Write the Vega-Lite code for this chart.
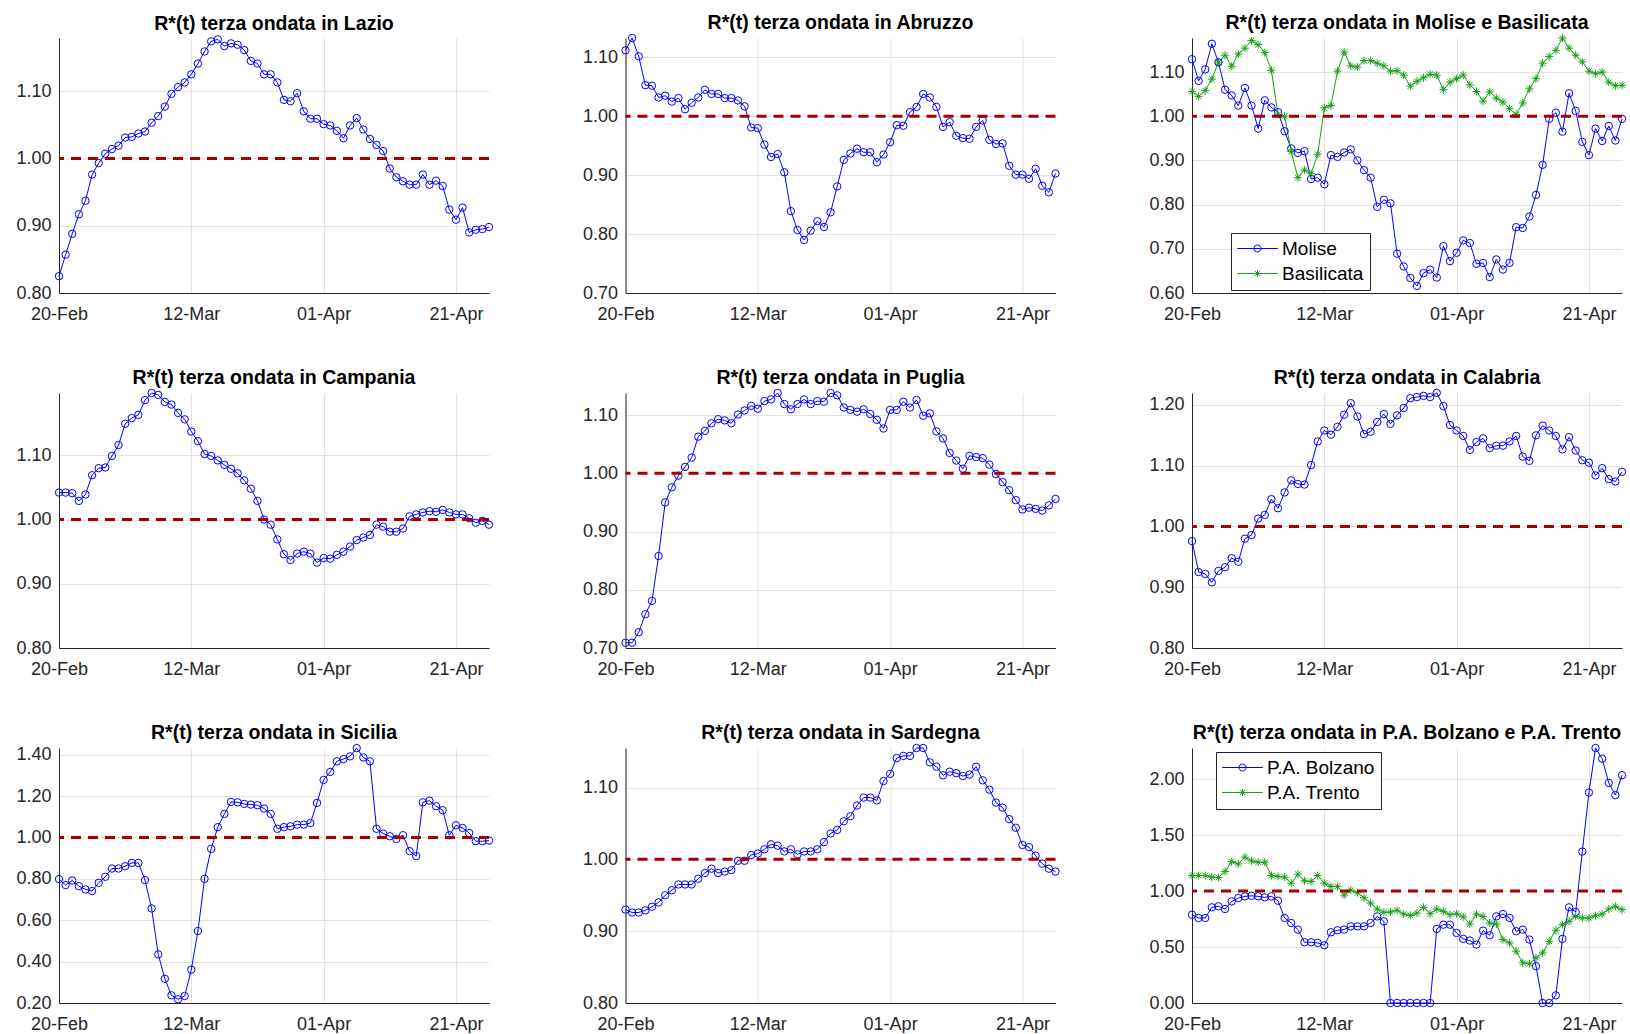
{
"$schema": "https://vega.github.io/schema/vega-lite/v6.json",
"padding": {"left": 15, "top": 12, "right": 0, "bottom": 0},
"datasets": {"r": [
{"t":"2021/02/20","Lazio":0.825,"Abruzzo":1.112,"Molise":1.129,"Basilicata":1.056,"Campania":1.042,"Puglia":0.709,"Calabria":0.976,"Sicilia":0.799,"Sardegna":0.930,"Bolzano":0.789,"Trento":1.139},
{"t":"2021/02/21","Lazio":0.857,"Abruzzo":1.133,"Molise":1.080,"Basilicata":1.045,"Campania":1.042,"Puglia":0.709,"Calabria":0.925,"Sicilia":0.770,"Sardegna":0.926,"Bolzano":0.760,"Trento":1.139},
{"t":"2021/02/22","Lazio":0.888,"Abruzzo":1.102,"Molise":1.106,"Basilicata":1.058,"Campania":1.041,"Puglia":0.727,"Calabria":0.922,"Sicilia":0.792,"Sardegna":0.926,"Bolzano":0.760,"Trento":1.139},
{"t":"2021/02/23","Lazio":0.917,"Abruzzo":1.053,"Molise":1.164,"Basilicata":1.084,"Campania":1.029,"Puglia":0.758,"Calabria":0.908,"Sicilia":0.765,"Sardegna":0.929,"Bolzano":0.855,"Trento":1.125},
{"t":"2021/02/24","Lazio":0.937,"Abruzzo":1.052,"Molise":1.122,"Basilicata":1.122,"Campania":1.039,"Puglia":0.781,"Calabria":0.927,"Sicilia":0.749,"Sardegna":0.934,"Bolzano":0.864,"Trento":1.122},
{"t":"2021/02/25","Lazio":0.976,"Abruzzo":1.032,"Molise":1.060,"Basilicata":1.138,"Campania":1.069,"Puglia":0.858,"Calabria":0.933,"Sicilia":0.741,"Sardegna":0.940,"Bolzano":0.840,"Trento":1.175},
{"t":"2021/02/26","Lazio":0.993,"Abruzzo":1.035,"Molise":1.047,"Basilicata":1.113,"Campania":1.080,"Puglia":0.950,"Calabria":0.948,"Sicilia":0.781,"Sardegna":0.950,"Bolzano":0.908,"Trento":1.264},
{"t":"2021/02/27","Lazio":1.007,"Abruzzo":1.025,"Molise":1.024,"Basilicata":1.141,"Campania":1.081,"Puglia":0.976,"Calabria":0.942,"Sicilia":0.810,"Sardegna":0.957,"Bolzano":0.938,"Trento":1.243},
{"t":"2021/02/28","Lazio":1.014,"Abruzzo":1.031,"Molise":1.064,"Basilicata":1.154,"Campania":1.099,"Puglia":0.996,"Calabria":0.980,"Sicilia":0.850,"Sardegna":0.965,"Bolzano":0.953,"Trento":1.303},
{"t":"2021/03/01","Lazio":1.019,"Abruzzo":1.012,"Molise":1.024,"Basilicata":1.171,"Campania":1.116,"Puglia":1.011,"Calabria":0.986,"Sicilia":0.850,"Sardegna":0.965,"Bolzano":0.958,"Trento":1.270},
{"t":"2021/03/02","Lazio":1.031,"Abruzzo":1.023,"Molise":0.972,"Basilicata":1.162,"Campania":1.149,"Puglia":1.027,"Calabria":1.013,"Sicilia":0.861,"Sardegna":0.965,"Bolzano":0.953,"Trento":1.258},
{"t":"2021/03/03","Lazio":1.032,"Abruzzo":1.032,"Molise":1.036,"Basilicata":1.144,"Campania":1.158,"Puglia":1.063,"Calabria":1.019,"Sicilia":0.877,"Sardegna":0.973,"Bolzano":0.944,"Trento":1.258},
{"t":"2021/03/04","Lazio":1.037,"Abruzzo":1.045,"Molise":1.020,"Basilicata":1.104,"Campania":1.163,"Puglia":1.073,"Calabria":1.045,"Sicilia":0.877,"Sardegna":0.981,"Bolzano":0.953,"Trento":1.139},
{"t":"2021/03/05","Lazio":1.040,"Abruzzo":1.038,"Molise":1.009,"Basilicata":1.004,"Campania":1.186,"Puglia":1.086,"Calabria":1.030,"Sicilia":0.794,"Sardegna":0.987,"Bolzano":0.914,"Trento":1.131},
{"t":"2021/03/06","Lazio":1.053,"Abruzzo":1.038,"Molise":0.966,"Basilicata":1.000,"Campania":1.197,"Puglia":1.093,"Calabria":1.056,"Sicilia":0.657,"Sardegna":0.981,"Bolzano":0.760,"Trento":1.125},
{"t":"2021/03/07","Lazio":1.063,"Abruzzo":1.031,"Molise":0.927,"Basilicata":0.920,"Campania":1.194,"Puglia":1.091,"Calabria":1.076,"Sicilia":0.435,"Sardegna":0.983,"Bolzano":0.715,"Trento":1.071},
{"t":"2021/03/08","Lazio":1.077,"Abruzzo":1.031,"Molise":0.917,"Basilicata":0.861,"Campania":1.183,"Puglia":1.086,"Calabria":1.070,"Sicilia":0.317,"Sardegna":0.985,"Bolzano":0.656,"Trento":1.151},
{"t":"2021/03/09","Lazio":1.096,"Abruzzo":1.027,"Molise":0.921,"Basilicata":0.878,"Campania":1.179,"Puglia":1.101,"Calabria":1.069,"Sicilia":0.237,"Sardegna":0.998,"Bolzano":0.543,"Trento":1.092},
{"t":"2021/03/10","Lazio":1.106,"Abruzzo":1.017,"Molise":0.858,"Basilicata":0.870,"Campania":1.166,"Puglia":1.108,"Calabria":1.101,"Sicilia":0.218,"Sardegna":0.998,"Bolzano":0.543,"Trento":1.086},
{"t":"2021/03/11","Lazio":1.113,"Abruzzo":0.981,"Molise":0.861,"Basilicata":0.914,"Campania":1.156,"Puglia":1.116,"Calabria":1.140,"Sicilia":0.234,"Sardegna":1.006,"Bolzano":0.537,"Trento":1.139},
{"t":"2021/03/12","Lazio":1.125,"Abruzzo":0.980,"Molise":0.846,"Basilicata":1.019,"Campania":1.137,"Puglia":1.111,"Calabria":1.158,"Sicilia":0.361,"Sardegna":1.008,"Bolzano":0.516,"Trento":1.071},
{"t":"2021/03/13","Lazio":1.141,"Abruzzo":0.952,"Molise":0.912,"Basilicata":1.024,"Campania":1.122,"Puglia":1.124,"Calabria":1.151,"Sicilia":0.548,"Sardegna":1.014,"Bolzano":0.632,"Trento":1.042},
{"t":"2021/03/14","Lazio":1.159,"Abruzzo":0.931,"Molise":0.908,"Basilicata":1.102,"Campania":1.102,"Puglia":1.127,"Calabria":1.164,"Sicilia":0.800,"Sardegna":1.021,"Bolzano":0.650,"Trento":1.042},
{"t":"2021/03/15","Lazio":1.174,"Abruzzo":0.936,"Molise":0.918,"Basilicata":1.145,"Campania":1.099,"Puglia":1.138,"Calabria":1.184,"Sicilia":0.945,"Sardegna":1.019,"Bolzano":0.656,"Trento":0.964},
{"t":"2021/03/16","Lazio":1.177,"Abruzzo":0.905,"Molise":0.925,"Basilicata":1.114,"Campania":1.092,"Puglia":1.119,"Calabria":1.203,"Sicilia":1.050,"Sardegna":1.011,"Bolzano":0.685,"Trento":1.009},
{"t":"2021/03/17","Lazio":1.167,"Abruzzo":0.839,"Molise":0.900,"Basilicata":1.111,"Campania":1.085,"Puglia":1.110,"Calabria":1.181,"Sicilia":1.114,"Sardegna":1.014,"Bolzano":0.685,"Trento":0.985},
{"t":"2021/03/18","Lazio":1.171,"Abruzzo":0.807,"Molise":0.878,"Basilicata":1.126,"Campania":1.079,"Puglia":1.119,"Calabria":1.152,"Sicilia":1.172,"Sardegna":1.007,"Bolzano":0.685,"Trento":0.941},
{"t":"2021/03/19","Lazio":1.169,"Abruzzo":0.790,"Molise":0.861,"Basilicata":1.126,"Campania":1.072,"Puglia":1.127,"Calabria":1.156,"Sicilia":1.170,"Sardegna":1.011,"Bolzano":0.715,"Trento":0.893},
{"t":"2021/03/20","Lazio":1.161,"Abruzzo":0.806,"Molise":0.795,"Basilicata":1.120,"Campania":1.061,"Puglia":1.119,"Calabria":1.172,"Sicilia":1.162,"Sardegna":1.011,"Bolzano":0.774,"Trento":0.840},
{"t":"2021/03/21","Lazio":1.145,"Abruzzo":0.822,"Molise":0.811,"Basilicata":1.114,"Campania":1.048,"Puglia":1.124,"Calabria":1.185,"Sicilia":1.159,"Sardegna":1.014,"Bolzano":0.730,"Trento":0.810},
{"t":"2021/03/22","Lazio":1.141,"Abruzzo":0.812,"Molise":0.803,"Basilicata":1.102,"Campania":1.029,"Puglia":1.123,"Calabria":1.169,"Sicilia":1.156,"Sardegna":1.024,"Bolzano":0,"Trento":0.813},
{"t":"2021/03/23","Lazio":1.125,"Abruzzo":0.837,"Molise":0.689,"Basilicata":1.103,"Campania":1.000,"Puglia":1.138,"Calabria":1.183,"Sicilia":1.140,"Sardegna":1.036,"Bolzano":0,"Trento":0.828},
{"t":"2021/03/24","Lazio":1.125,"Abruzzo":0.881,"Molise":0.660,"Basilicata":1.093,"Campania":0.992,"Puglia":1.134,"Calabria":1.195,"Sicilia":1.114,"Sardegna":1.041,"Bolzano":0,"Trento":0.795},
{"t":"2021/03/25","Lazio":1.113,"Abruzzo":0.926,"Molise":0.634,"Basilicata":1.068,"Campania":0.969,"Puglia":1.113,"Calabria":1.211,"Sicilia":1.042,"Sardegna":1.053,"Bolzano":0,"Trento":0.783},
{"t":"2021/03/26","Lazio":1.087,"Abruzzo":0.937,"Molise":0.616,"Basilicata":1.079,"Campania":0.946,"Puglia":1.109,"Calabria":1.213,"Sicilia":1.050,"Sardegna":1.060,"Bolzano":0,"Trento":0.804},
{"t":"2021/03/27","Lazio":1.085,"Abruzzo":0.945,"Molise":0.645,"Basilicata":1.087,"Campania":0.937,"Puglia":1.106,"Calabria":1.215,"Sicilia":1.054,"Sardegna":1.075,"Bolzano":0,"Trento":0.855},
{"t":"2021/03/28","Lazio":1.097,"Abruzzo":0.939,"Molise":0.653,"Basilicata":1.095,"Campania":0.947,"Puglia":1.110,"Calabria":1.213,"Sicilia":1.062,"Sardegna":1.086,"Bolzano":0,"Trento":0.798},
{"t":"2021/03/29","Lazio":1.070,"Abruzzo":0.939,"Molise":0.635,"Basilicata":1.093,"Campania":0.950,"Puglia":1.102,"Calabria":1.220,"Sicilia":1.062,"Sardegna":1.086,"Bolzano":0.662,"Trento":0.840},
{"t":"2021/03/30","Lazio":1.059,"Abruzzo":0.922,"Molise":0.706,"Basilicata":1.060,"Campania":0.947,"Puglia":1.092,"Calabria":1.198,"Sicilia":1.070,"Sardegna":1.082,"Bolzano":0.700,"Trento":0.819},
{"t":"2021/03/31","Lazio":1.059,"Abruzzo":0.935,"Molise":0.672,"Basilicata":1.077,"Campania":0.933,"Puglia":1.077,"Calabria":1.167,"Sicilia":1.167,"Sardegna":1.109,"Bolzano":0.700,"Trento":0.789},
{"t":"2021/04/01","Lazio":1.051,"Abruzzo":0.956,"Molise":0.691,"Basilicata":1.085,"Campania":0.940,"Puglia":1.109,"Calabria":1.158,"Sicilia":1.278,"Sardegna":1.119,"Bolzano":0.626,"Trento":0.798},
{"t":"2021/04/02","Lazio":1.049,"Abruzzo":0.985,"Molise":0.719,"Basilicata":1.093,"Campania":0.939,"Puglia":1.109,"Calabria":1.149,"Sicilia":1.317,"Sardegna":1.141,"Bolzano":0.573,"Trento":0.769},
{"t":"2021/04/03","Lazio":1.041,"Abruzzo":0.984,"Molise":0.713,"Basilicata":1.071,"Campania":0.945,"Puglia":1.123,"Calabria":1.126,"Sicilia":1.368,"Sardegna":1.144,"Bolzano":0.558,"Trento":0.706},
{"t":"2021/04/04","Lazio":1.030,"Abruzzo":1.007,"Molise":0.666,"Basilicata":1.056,"Campania":0.950,"Puglia":1.113,"Calabria":1.139,"Sicilia":1.379,"Sardegna":1.144,"Bolzano":0.522,"Trento":0.795},
{"t":"2021/04/05","Lazio":1.049,"Abruzzo":1.016,"Molise":0.668,"Basilicata":1.034,"Campania":0.958,"Puglia":1.126,"Calabria":1.145,"Sicilia":1.392,"Sardegna":1.155,"Bolzano":0.647,"Trento":0.774},
{"t":"2021/04/06","Lazio":1.060,"Abruzzo":1.038,"Molise":0.636,"Basilicata":1.055,"Campania":0.968,"Puglia":1.099,"Calabria":1.129,"Sicilia":1.432,"Sardegna":1.155,"Bolzano":0.605,"Trento":0.715},
{"t":"2021/04/07","Lazio":1.043,"Abruzzo":1.032,"Molise":0.676,"Basilicata":1.041,"Campania":0.972,"Puglia":1.103,"Calabria":1.133,"Sicilia":1.387,"Sardegna":1.135,"Bolzano":0.774,"Trento":0.706},
{"t":"2021/04/08","Lazio":1.029,"Abruzzo":1.016,"Molise":0.653,"Basilicata":1.032,"Campania":0.976,"Puglia":1.072,"Calabria":1.133,"Sicilia":1.368,"Sardegna":1.129,"Bolzano":0.795,"Trento":0.567},
{"t":"2021/04/09","Lazio":1.020,"Abruzzo":0.982,"Molise":0.668,"Basilicata":1.017,"Campania":0.992,"Puglia":1.060,"Calabria":1.140,"Sicilia":1.042,"Sardegna":1.117,"Bolzano":0.760,"Trento":0.537},
{"t":"2021/04/10","Lazio":1.011,"Abruzzo":0.990,"Molise":0.749,"Basilicata":1.004,"Campania":0.989,"Puglia":1.035,"Calabria":1.149,"Sicilia":1.019,"Sardegna":1.122,"Bolzano":0.641,"Trento":0.463},
{"t":"2021/04/11","Lazio":0.985,"Abruzzo":0.967,"Molise":0.747,"Basilicata":1.030,"Campania":0.981,"Puglia":1.022,"Calabria":1.115,"Sicilia":1.006,"Sardegna":1.120,"Bolzano":0.656,"Trento":0.359},
{"t":"2021/04/12","Lazio":0.972,"Abruzzo":0.963,"Molise":0.773,"Basilicata":1.062,"Campania":0.981,"Puglia":1.008,"Calabria":1.108,"Sicilia":0.993,"Sardegna":1.116,"Bolzano":0.567,"Trento":0.350},
{"t":"2021/04/13","Lazio":0.966,"Abruzzo":0.962,"Molise":0.822,"Basilicata":1.085,"Campania":0.986,"Puglia":1.030,"Calabria":1.150,"Sicilia":1.011,"Sardegna":1.118,"Bolzano":0.329,"Trento":0.404},
{"t":"2021/04/14","Lazio":0.961,"Abruzzo":0.982,"Molise":0.890,"Basilicata":1.120,"Campania":1.005,"Puglia":1.028,"Calabria":1.166,"Sicilia":0.934,"Sardegna":1.129,"Bolzano":0,"Trento":0.448},
{"t":"2021/04/15","Lazio":0.961,"Abruzzo":0.993,"Molise":0.994,"Basilicata":1.135,"Campania":1.008,"Puglia":1.026,"Calabria":1.158,"Sicilia":0.910,"Sardegna":1.110,"Bolzano":0,"Trento":0.552},
{"t":"2021/04/16","Lazio":0.976,"Abruzzo":0.960,"Molise":1.008,"Basilicata":1.149,"Campania":1.011,"Puglia":1.015,"Calabria":1.149,"Sicilia":1.170,"Sardegna":1.097,"Bolzano":0.068,"Trento":0.650},
{"t":"2021/04/17","Lazio":0.961,"Abruzzo":0.953,"Molise":0.965,"Basilicata":1.177,"Campania":1.013,"Puglia":0.999,"Calabria":1.127,"Sicilia":1.178,"Sardegna":1.079,"Bolzano":0.573,"Trento":0.700},
{"t":"2021/04/18","Lazio":0.967,"Abruzzo":0.954,"Molise":1.052,"Basilicata":1.154,"Campania":1.012,"Puglia":0.985,"Calabria":1.147,"Sicilia":1.151,"Sardegna":1.072,"Bolzano":0.855,"Trento":0.730},
{"t":"2021/04/19","Lazio":0.959,"Abruzzo":0.916,"Molise":1.012,"Basilicata":1.138,"Campania":1.015,"Puglia":0.971,"Calabria":1.125,"Sicilia":1.132,"Sardegna":1.056,"Bolzano":0.813,"Trento":0.774},
{"t":"2021/04/20","Lazio":0.924,"Abruzzo":0.901,"Molise":0.942,"Basilicata":1.123,"Campania":1.011,"Puglia":0.954,"Calabria":1.109,"Sicilia":1.011,"Sardegna":1.044,"Bolzano":1.353,"Trento":0.760},
{"t":"2021/04/21","Lazio":0.909,"Abruzzo":0.901,"Molise":0.912,"Basilicata":1.102,"Campania":1.008,"Puglia":0.938,"Calabria":1.105,"Sicilia":1.059,"Sardegna":1.020,"Bolzano":1.881,"Trento":0.760},
{"t":"2021/04/22","Lazio":0.927,"Abruzzo":0.894,"Molise":0.972,"Basilicata":1.096,"Campania":1.008,"Puglia":0.941,"Calabria":1.084,"Sicilia":1.046,"Sardegna":1.017,"Bolzano":2.279,"Trento":0.780},
{"t":"2021/04/23","Lazio":0.890,"Abruzzo":0.911,"Molise":0.944,"Basilicata":1.100,"Campania":1.002,"Puglia":0.939,"Calabria":1.096,"Sicilia":1.022,"Sardegna":1.005,"Bolzano":2.184,"Trento":0.795},
{"t":"2021/04/24","Lazio":0.894,"Abruzzo":0.882,"Molise":0.978,"Basilicata":1.077,"Campania":0.995,"Puglia":0.936,"Calabria":1.078,"Sicilia":0.982,"Sardegna":0.994,"Bolzano":1.967,"Trento":0.840},
{"t":"2021/04/25","Lazio":0.895,"Abruzzo":0.871,"Molise":0.945,"Basilicata":1.069,"Campania":0.998,"Puglia":0.945,"Calabria":1.074,"Sicilia":0.982,"Sardegna":0.987,"Bolzano":1.858,"Trento":0.864},
{"t":"2021/04/26","Lazio":0.898,"Abruzzo":0.903,"Molise":0.994,"Basilicata":1.070,"Campania":0.992,"Puglia":0.956,"Calabria":1.090,"Sicilia":0.985,"Sardegna":0.983,"Bolzano":2.036,"Trento":0.834}
]},
"data": {"name": "r"},
"columns": 3,
"spacing": {"row": 100, "column": 136.5},
"bounds": "flush",
"resolve": {"scale": {"color": "independent", "shape": "independent"}, "legend": {"color": "independent", "shape": "independent"}},
"concat": [
{"width": 430, "height": 255, "title": "R*(t) terza ondata in Lazio",
 "layer": [
  {"mark": {"type": "line", "color": "#0000ff", "strokeWidth": 1},
   "encoding": {"x": {"field": "t", "type": "temporal", "title": null, "scale": {"domain": [{"year": 2021, "month": 2, "date": 20}, {"year": 2021, "month": 4, "date": 26}], "nice": false}, "axis": {"values": [{"year": 2021, "month": 2, "date": 20}, {"year": 2021, "month": 3, "date": 12}, {"year": 2021, "month": 4, "date": 1}, {"year": 2021, "month": 4, "date": 21}], "format": "%d-%b"}},
    "y": {"field": "Lazio", "type": "quantitative", "title": null, "scale": {"domain": [0.8, 1.179], "nice": false, "zero": false}, "axis": {"values": [0.8, 0.9, 1.0, 1.1], "format": ".2f"}}}},
  {"mark": {"type": "point", "shape": "circle", "color": "#0000ff", "filled": false, "size": 55, "strokeWidth": 1, "opacity": 1},
   "encoding": {"x": {"field": "t", "type": "temporal", "title": null}, "y": {"field": "Lazio", "type": "quantitative", "title": null}}},
  {"data": {"values": [{}]}, "mark": {"type": "rule", "color": "#a80000", "strokeWidth": 3, "strokeDash": [10, 7]}, "encoding": {"y": {"datum": 1}}}
 ]},
{"width": 430, "height": 255, "title": "R*(t) terza ondata in Abruzzo",
 "layer": [
  {"mark": {"type": "line", "color": "#0000ff", "strokeWidth": 1},
   "encoding": {"x": {"field": "t", "type": "temporal", "title": null, "scale": {"domain": [{"year": 2021, "month": 2, "date": 20}, {"year": 2021, "month": 4, "date": 26}], "nice": false}, "axis": {"values": [{"year": 2021, "month": 2, "date": 20}, {"year": 2021, "month": 3, "date": 12}, {"year": 2021, "month": 4, "date": 1}, {"year": 2021, "month": 4, "date": 21}], "format": "%d-%b"}},
    "y": {"field": "Abruzzo", "type": "quantitative", "title": null, "scale": {"domain": [0.7, 1.133], "nice": false, "zero": false}, "axis": {"values": [0.7, 0.8, 0.9, 1.0, 1.1], "format": ".2f"}}}},
  {"mark": {"type": "point", "shape": "circle", "color": "#0000ff", "filled": false, "size": 55, "strokeWidth": 1, "opacity": 1},
   "encoding": {"x": {"field": "t", "type": "temporal", "title": null}, "y": {"field": "Abruzzo", "type": "quantitative", "title": null}}},
  {"data": {"values": [{}]}, "mark": {"type": "rule", "color": "#a80000", "strokeWidth": 3, "strokeDash": [10, 7]}, "encoding": {"y": {"datum": 1}}}
 ]},
{"width": 430, "height": 255, "title": "R*(t) terza ondata in Molise e Basilicata",
 "layer": [
  {"mark": {"type": "line", "color": "#0000ff", "strokeWidth": 1},
   "encoding": {"x": {"field": "t", "type": "temporal", "title": null, "scale": {"domain": [{"year": 2021, "month": 2, "date": 20}, {"year": 2021, "month": 4, "date": 26}], "nice": false}, "axis": {"values": [{"year": 2021, "month": 2, "date": 20}, {"year": 2021, "month": 3, "date": 12}, {"year": 2021, "month": 4, "date": 1}, {"year": 2021, "month": 4, "date": 21}], "format": "%d-%b"}},
    "y": {"field": "Molise", "type": "quantitative", "title": null, "scale": {"domain": [0.6, 1.177], "nice": false, "zero": false}, "axis": {"values": [0.6, 0.7, 0.8, 0.9, 1.0, 1.1], "format": ".2f"}}}},
  {"mark": {"type": "line", "color": "#14a014", "strokeWidth": 1},
   "encoding": {"x": {"field": "t", "type": "temporal", "title": null}, "y": {"field": "Basilicata", "type": "quantitative", "title": null, "scale": {"domain": [0.6, 1.177], "nice": false, "zero": false}}}},
  {"mark": {"type": "point", "shape": "circle", "color": "#0000ff", "filled": false, "size": 55, "strokeWidth": 1, "opacity": 1},
   "encoding": {"x": {"field": "t", "type": "temporal", "title": null}, "y": {"field": "Molise", "type": "quantitative", "title": null, "scale": {"domain": [0.6, 1.177], "nice": false, "zero": false}}}},
  {"mark": {"type": "point", "shape": "M-1,0L1,0M0,-1L0,1M-0.7,-0.7L0.7,0.7M-0.7,0.7L0.7,-0.7", "color": "#14a014", "filled": false, "size": 64, "strokeWidth": 1, "opacity": 1},
   "encoding": {"x": {"field": "t", "type": "temporal", "title": null}, "y": {"field": "Basilicata", "type": "quantitative", "title": null, "scale": {"domain": [0.6, 1.177], "nice": false, "zero": false}}}},
  {"data": {"values": [{}]}, "mark": {"type": "rule", "color": "#a80000", "strokeWidth": 3, "strokeDash": [10, 7]}, "encoding": {"y": {"datum": 1}}},
  {"transform": [{"fold": ["Molise", "Basilicata"], "as": ["serie", "val"]}, {"filter": "false"}],
   "mark": {"type": "point", "filled": false, "strokeWidth": 1, "opacity": 1},
   "encoding": {"x": {"field": "t", "type": "temporal", "title": null},
    "y": {"field": "val", "type": "quantitative", "title": null, "scale": {"domain": [0.6, 1.177], "nice": false, "zero": false}},
    "color": {"field": "serie", "type": "nominal", "scale": {"domain": ["Molise", "Basilicata"], "range": ["#0000ff", "#14a014"]},
     "legend": {"title": null, "orient": "none", "legendX": 39, "legendY": 195, "direction": "vertical", "fillColor": "white", "strokeColor": "#262626", "padding": 6, "symbolSize": 196, "symbolStrokeWidth": 1, "symbolOffset": 11, "labelOffset": 15, "labelFontSize": 19, "labelColor": "#000000", "rowPadding": 5}},
    "shape": {"field": "serie", "type": "nominal", "scale": {"domain": ["Molise", "Basilicata"], "range": ["M-2.9,0L2.9,0M0.5,0A0.5,0.5,0,1,1,-0.5,0A0.5,0.5,0,1,1,0.5,0", "M-2.9,0L2.9,0M0,-0.5L0,0.5M-0.35,-0.35L0.35,0.35M-0.35,0.35L0.35,-0.35"]},
     "legend": {"title": null, "orient": "none", "legendX": 39, "legendY": 195, "direction": "vertical", "fillColor": "white", "strokeColor": "#262626", "padding": 6, "symbolSize": 196, "symbolStrokeWidth": 1, "symbolOffset": 11, "labelOffset": 15, "labelFontSize": 19, "labelColor": "#000000", "rowPadding": 5}}}}
 ]},
{"width": 430, "height": 255, "title": "R*(t) terza ondata in Campania",
 "layer": [
  {"mark": {"type": "line", "color": "#0000ff", "strokeWidth": 1},
   "encoding": {"x": {"field": "t", "type": "temporal", "title": null, "scale": {"domain": [{"year": 2021, "month": 2, "date": 20}, {"year": 2021, "month": 4, "date": 26}], "nice": false}, "axis": {"values": [{"year": 2021, "month": 2, "date": 20}, {"year": 2021, "month": 3, "date": 12}, {"year": 2021, "month": 4, "date": 1}, {"year": 2021, "month": 4, "date": 21}], "format": "%d-%b"}},
    "y": {"field": "Campania", "type": "quantitative", "title": null, "scale": {"domain": [0.8, 1.197], "nice": false, "zero": false}, "axis": {"values": [0.8, 0.9, 1.0, 1.1], "format": ".2f"}}}},
  {"mark": {"type": "point", "shape": "circle", "color": "#0000ff", "filled": false, "size": 55, "strokeWidth": 1, "opacity": 1},
   "encoding": {"x": {"field": "t", "type": "temporal", "title": null}, "y": {"field": "Campania", "type": "quantitative", "title": null}}},
  {"data": {"values": [{}]}, "mark": {"type": "rule", "color": "#a80000", "strokeWidth": 3, "strokeDash": [10, 7]}, "encoding": {"y": {"datum": 1}}}
 ]},
{"width": 430, "height": 255, "title": "R*(t) terza ondata in Puglia",
 "layer": [
  {"mark": {"type": "line", "color": "#0000ff", "strokeWidth": 1},
   "encoding": {"x": {"field": "t", "type": "temporal", "title": null, "scale": {"domain": [{"year": 2021, "month": 2, "date": 20}, {"year": 2021, "month": 4, "date": 26}], "nice": false}, "axis": {"values": [{"year": 2021, "month": 2, "date": 20}, {"year": 2021, "month": 3, "date": 12}, {"year": 2021, "month": 4, "date": 1}, {"year": 2021, "month": 4, "date": 21}], "format": "%d-%b"}},
    "y": {"field": "Puglia", "type": "quantitative", "title": null, "scale": {"domain": [0.7, 1.138], "nice": false, "zero": false}, "axis": {"values": [0.7, 0.8, 0.9, 1.0, 1.1], "format": ".2f"}}}},
  {"mark": {"type": "point", "shape": "circle", "color": "#0000ff", "filled": false, "size": 55, "strokeWidth": 1, "opacity": 1},
   "encoding": {"x": {"field": "t", "type": "temporal", "title": null}, "y": {"field": "Puglia", "type": "quantitative", "title": null}}},
  {"data": {"values": [{}]}, "mark": {"type": "rule", "color": "#a80000", "strokeWidth": 3, "strokeDash": [10, 7]}, "encoding": {"y": {"datum": 1}}}
 ]},
{"width": 430, "height": 255, "title": "R*(t) terza ondata in Calabria",
 "layer": [
  {"mark": {"type": "line", "color": "#0000ff", "strokeWidth": 1},
   "encoding": {"x": {"field": "t", "type": "temporal", "title": null, "scale": {"domain": [{"year": 2021, "month": 2, "date": 20}, {"year": 2021, "month": 4, "date": 26}], "nice": false}, "axis": {"values": [{"year": 2021, "month": 2, "date": 20}, {"year": 2021, "month": 3, "date": 12}, {"year": 2021, "month": 4, "date": 1}, {"year": 2021, "month": 4, "date": 21}], "format": "%d-%b"}},
    "y": {"field": "Calabria", "type": "quantitative", "title": null, "scale": {"domain": [0.8, 1.2197], "nice": false, "zero": false}, "axis": {"values": [0.8, 0.9, 1.0, 1.1, 1.2], "format": ".2f"}}}},
  {"mark": {"type": "point", "shape": "circle", "color": "#0000ff", "filled": false, "size": 55, "strokeWidth": 1, "opacity": 1},
   "encoding": {"x": {"field": "t", "type": "temporal", "title": null}, "y": {"field": "Calabria", "type": "quantitative", "title": null}}},
  {"data": {"values": [{}]}, "mark": {"type": "rule", "color": "#a80000", "strokeWidth": 3, "strokeDash": [10, 7]}, "encoding": {"y": {"datum": 1}}}
 ]},
{"width": 430, "height": 255, "title": "R*(t) terza ondata in Sicilia",
 "layer": [
  {"mark": {"type": "line", "color": "#0000ff", "strokeWidth": 1},
   "encoding": {"x": {"field": "t", "type": "temporal", "title": null, "scale": {"domain": [{"year": 2021, "month": 2, "date": 20}, {"year": 2021, "month": 4, "date": 26}], "nice": false}, "axis": {"values": [{"year": 2021, "month": 2, "date": 20}, {"year": 2021, "month": 3, "date": 12}, {"year": 2021, "month": 4, "date": 1}, {"year": 2021, "month": 4, "date": 21}], "format": "%d-%b"}},
    "y": {"field": "Sicilia", "type": "quantitative", "title": null, "scale": {"domain": [0.2, 1.4325], "nice": false, "zero": false}, "axis": {"values": [0.2, 0.4, 0.6, 0.8, 1.0, 1.2, 1.4], "format": ".2f"}}}},
  {"mark": {"type": "point", "shape": "circle", "color": "#0000ff", "filled": false, "size": 55, "strokeWidth": 1, "opacity": 1},
   "encoding": {"x": {"field": "t", "type": "temporal", "title": null}, "y": {"field": "Sicilia", "type": "quantitative", "title": null}}},
  {"data": {"values": [{}]}, "mark": {"type": "rule", "color": "#a80000", "strokeWidth": 3, "strokeDash": [10, 7]}, "encoding": {"y": {"datum": 1}}}
 ]},
{"width": 430, "height": 255, "title": "R*(t) terza ondata in Sardegna",
 "layer": [
  {"mark": {"type": "line", "color": "#0000ff", "strokeWidth": 1},
   "encoding": {"x": {"field": "t", "type": "temporal", "title": null, "scale": {"domain": [{"year": 2021, "month": 2, "date": 20}, {"year": 2021, "month": 4, "date": 26}], "nice": false}, "axis": {"values": [{"year": 2021, "month": 2, "date": 20}, {"year": 2021, "month": 3, "date": 12}, {"year": 2021, "month": 4, "date": 1}, {"year": 2021, "month": 4, "date": 21}], "format": "%d-%b"}},
    "y": {"field": "Sardegna", "type": "quantitative", "title": null, "scale": {"domain": [0.8, 1.155], "nice": false, "zero": false}, "axis": {"values": [0.8, 0.9, 1.0, 1.1], "format": ".2f"}}}},
  {"mark": {"type": "point", "shape": "circle", "color": "#0000ff", "filled": false, "size": 55, "strokeWidth": 1, "opacity": 1},
   "encoding": {"x": {"field": "t", "type": "temporal", "title": null}, "y": {"field": "Sardegna", "type": "quantitative", "title": null}}},
  {"data": {"values": [{}]}, "mark": {"type": "rule", "color": "#a80000", "strokeWidth": 3, "strokeDash": [10, 7]}, "encoding": {"y": {"datum": 1}}}
 ]},
{"width": 430, "height": 255, "title": "R*(t) terza ondata in P.A. Bolzano e P.A. Trento",
 "layer": [
  {"mark": {"type": "line", "color": "#0000ff", "strokeWidth": 1},
   "encoding": {"x": {"field": "t", "type": "temporal", "title": null, "scale": {"domain": [{"year": 2021, "month": 2, "date": 20}, {"year": 2021, "month": 4, "date": 26}], "nice": false}, "axis": {"values": [{"year": 2021, "month": 2, "date": 20}, {"year": 2021, "month": 3, "date": 12}, {"year": 2021, "month": 4, "date": 1}, {"year": 2021, "month": 4, "date": 21}], "format": "%d-%b"}},
    "y": {"field": "Bolzano", "type": "quantitative", "title": null, "scale": {"domain": [0, 2.279], "nice": false, "zero": false}, "axis": {"values": [0, 0.5, 1.0, 1.5, 2.0], "format": ".2f"}}}},
  {"mark": {"type": "line", "color": "#14a014", "strokeWidth": 1},
   "encoding": {"x": {"field": "t", "type": "temporal", "title": null}, "y": {"field": "Trento", "type": "quantitative", "title": null, "scale": {"domain": [0, 2.279], "nice": false, "zero": false}}}},
  {"mark": {"type": "point", "shape": "circle", "color": "#0000ff", "filled": false, "size": 55, "strokeWidth": 1, "opacity": 1},
   "encoding": {"x": {"field": "t", "type": "temporal", "title": null}, "y": {"field": "Bolzano", "type": "quantitative", "title": null, "scale": {"domain": [0, 2.279], "nice": false, "zero": false}}}},
  {"mark": {"type": "point", "shape": "M-1,0L1,0M0,-1L0,1M-0.7,-0.7L0.7,0.7M-0.7,0.7L0.7,-0.7", "color": "#14a014", "filled": false, "size": 64, "strokeWidth": 1, "opacity": 1},
   "encoding": {"x": {"field": "t", "type": "temporal", "title": null}, "y": {"field": "Trento", "type": "quantitative", "title": null, "scale": {"domain": [0, 2.279], "nice": false, "zero": false}}}},
  {"data": {"values": [{}]}, "mark": {"type": "rule", "color": "#a80000", "strokeWidth": 3, "strokeDash": [10, 7]}, "encoding": {"y": {"datum": 1}}},
  {"transform": [{"fold": ["Bolzano", "Trento"], "as": ["serie", "val"]}, {"filter": "false"}],
   "mark": {"type": "point", "filled": false, "strokeWidth": 1, "opacity": 1},
   "encoding": {"x": {"field": "t", "type": "temporal", "title": null},
    "y": {"field": "val", "type": "quantitative", "title": null, "scale": {"domain": [0, 2.279], "nice": false, "zero": false}},
    "color": {"field": "serie", "type": "nominal", "scale": {"domain": ["Bolzano", "Trento"], "range": ["#0000ff", "#14a014"]},
     "legend": {"title": null, "orient": "none", "legendX": 24, "legendY": 4, "direction": "vertical", "fillColor": "white", "strokeColor": "#262626", "padding": 6, "symbolSize": 196, "symbolStrokeWidth": 1, "symbolOffset": 11, "labelOffset": 15, "labelFontSize": 19, "labelColor": "#000000", "rowPadding": 5, "labelExpr": "'P.A. ' + datum.label"}},
    "shape": {"field": "serie", "type": "nominal", "scale": {"domain": ["Bolzano", "Trento"], "range": ["M-2.9,0L2.9,0M0.5,0A0.5,0.5,0,1,1,-0.5,0A0.5,0.5,0,1,1,0.5,0", "M-2.9,0L2.9,0M0,-0.5L0,0.5M-0.35,-0.35L0.35,0.35M-0.35,0.35L0.35,-0.35"]},
     "legend": {"title": null, "orient": "none", "legendX": 24, "legendY": 4, "direction": "vertical", "fillColor": "white", "strokeColor": "#262626", "padding": 6, "symbolSize": 196, "symbolStrokeWidth": 1, "symbolOffset": 11, "labelOffset": 15, "labelFontSize": 19, "labelColor": "#000000", "rowPadding": 5, "labelExpr": "'P.A. ' + datum.label"}}}}
 ]}
],
"config": {
 "font": "Liberation Sans",
 "view": {"stroke": null},
 "axis": {"domainColor": "#262626", "domainWidth": 1, "gridColor": "#e2e2e2", "gridWidth": 1, "grid": true, "labelColor": "#262626", "labelFontSize": 18, "labelFont": "Liberation Sans", "ticks": false, "tickSize": 0, "labelFlush": false, "labelOverlap": false},
 "axisX": {"labelPadding": 12},
 "axisY": {"labelPadding": 8},
 "title": {"fontSize": 19.5, "fontWeight": "bold", "color": "#000000", "anchor": "middle", "frame": "group", "offset": -1, "baseline": "bottom", "limit": 1000, "font": "Liberation Sans"},
 "legend": {"labelFont": "Liberation Sans"}
}
}
